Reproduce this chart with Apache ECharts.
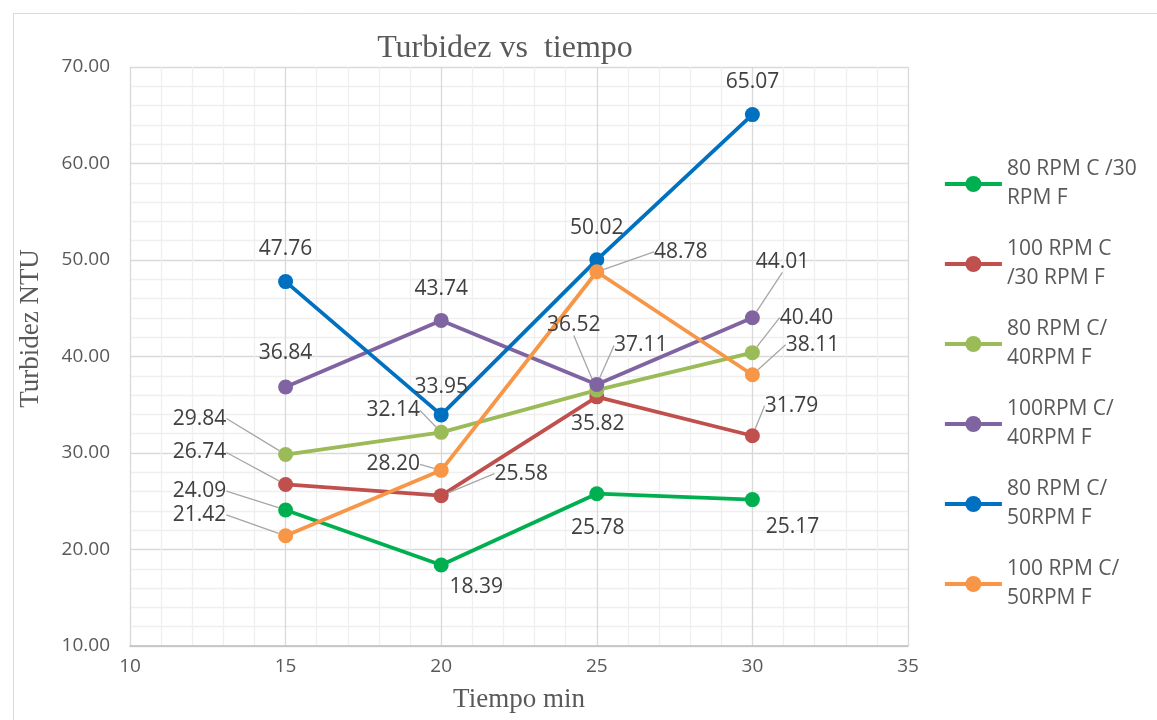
<!DOCTYPE html>
<html>
<head>
<meta charset="utf-8">
<script src="https://cdn.jsdelivr.net/npm/echarts@6/dist/echarts.min.js"></script>
<style>
  html, body { margin: 0; padding: 0; background: #fff; }
  #chart { width: 1157px; height: 720px; }
</style>
</head>
<body>
<div id="chart"></div>
<script>
  // datos
  const tiempos = [15, 20, 25, 30];
  const serieNombres = [
    "80 RPM C /30 RPM F",
    "100 RPM C /30 RPM F",
    "80 RPM C/ 40RPM F",
    "100RPM C/ 40RPM F",
    "80 RPM C/ 50RPM F",
    "100 RPM C/ 50RPM F"
  ];
  const rpm80c30f = [24.09, 18.39, 25.78, 25.17];
  const rpm100c30f = [26.74, 25.58, 35.82, 31.79];
  const rpm80c40f = [29.84, 32.14, 36.52, 40.40];
  const rpm100c40f = [36.84, 43.74, 37.11, 44.01];
  const rpm80c50f = [47.76, 33.95, 50.02, 65.07];
  const rpm100c50f = [21.42, 28.20, 48.78, 38.11];
  const valores = [rpm80c30f, rpm100c30f, rpm80c40f, rpm100c40f, rpm80c50f, rpm100c50f];

  // estilos
  const colores = ["#00B050", "#C0504D", "#9BBB59", "#8064A2", "#0070C0", "#F79646"];
  // posicion de las etiquetas (desplazamiento respecto al punto, px)
  const desplazamientos = [
    [[-86, -19], [35, 22], [1, 34], [40, 27]],
    [[-86, -32], [80, -22], [1, 27], [39, -30]],
    [[-86, -36], [-48, -22], [-23, -65], [54, -35]],
    [[0, -34], [0, -31], [44, -39], [30, -56]],
    [[0, -33], [0, -28], [0, -32], [0, -33]],
    [[-86, -21], [-48, -6], [84, -20], [60, -30]]
  ];
  // lineas guia
  const guias = [
    [true, false, false, false],
    [true, true, false, true],
    [true, true, true, true],
    [false, false, true, true],
    [false, false, false, false],
    [true, true, true, true]
  ];
  // nombres de leyenda en dos lineas
  const leyendaTexto = {
    "80 RPM C /30 RPM F": "80 RPM C /30\nRPM F",
    "100 RPM C /30 RPM F": "100 RPM C\n/30 RPM F",
    "80 RPM C/ 40RPM F": "80 RPM C/\n40RPM F",
    "100RPM C/ 40RPM F": "100RPM C/\n40RPM F",
    "80 RPM C/ 50RPM F": "80 RPM C/\n50RPM F",
    "100 RPM C/ 50RPM F": "100 RPM C/\n50RPM F"
  };

  const chart = echarts.init(document.getElementById("chart"));

  const series = serieNombres.map((nombre, s) => ({
    name: nombre,
    type: "line",
    symbol: "circle",
    symbolSize: 15,
    color: colores[s],
    lineStyle: { width: 3.8, color: colores[s] },
    itemStyle: { color: colores[s] },
    label: {
      show: true,
      position: "inside",
      fontFamily: "Open Sans",
      fontSize: 21,
      color: "#404040",
      formatter: (p) => p.value[1].toFixed(2)
    },
    labelLine: {
      show: true,
      lineStyle: { color: "#a6a6a6", width: 1.3 }
    },
    labelLayout: (p) => {
      const d = desplazamientos[s][p.dataIndex];
      return { dx: d[0], dy: d[1] };
    },
    data: tiempos.map((t, i) => ({
      value: [t, valores[s][i]],
      labelLine: { show: guias[s][i] }
    }))
  }));

  const option = {
    animation: false,
    backgroundColor: "#fff",
    title: {
      text: "Turbidez vs  tiempo",
      left: 500,
      top: 28,
      textAlign: "center",
      textStyle: {
        fontFamily: "Liberation Serif",
        fontWeight: "normal",
        fontSize: 32,
        color: "#595959"
      }
    },
    graphic: [
      {
        type: "rect",
        z: -10,
        shape: { x: 13.5, y: 13.5, width: 1300, height: 900 },
        style: { fill: null, stroke: "#d9d9d9", lineWidth: 1 }
      }
    ],
    legend: {
      orient: "vertical",
      left: 938,
      top: 150,
      itemWidth: 57,
      itemHeight: 20,
      itemGap: 22,
      lineStyle: { width: 3.8 },
      data: serieNombres,
      formatter: (n) => leyendaTexto[n],
      textStyle: {
        fontFamily: "Open Sans",
        fontSize: 21,
        lineHeight: 29,
        color: "#595959"
      }
    },
    grid: {
      left: 130,
      right: 249,
      top: 67,
      bottom: 74
    },
    xAxis: {
      type: "value",
      min: 10,
      max: 35,
      interval: 5,
      name: "Tiempo min",
      nameLocation: "middle",
      nameGap: 40,
      nameTextStyle: {
        fontFamily: "Liberation Serif",
        fontSize: 27,
        color: "#595959"
      },
      axisLine: { show: true, lineStyle: { color: "#bfbfbf", width: 1.5 } },
      axisTick: { show: false },
      axisLabel: {
        fontFamily: "Open Sans",
        fontSize: 19,
        color: "#595959",
        margin: 11
      },
      splitLine: { show: true, lineStyle: { color: "#d9d9d9", width: 1.3 } },
      minorTick: { show: false, splitNumber: 5 },
      minorSplitLine: { show: true, lineStyle: { color: "#efefef", width: 1.3 } }
    },
    yAxis: {
      type: "value",
      min: 10,
      max: 70,
      interval: 10,
      name: "Turbidez NTU",
      nameLocation: "middle",
      nameGap: 86,
      nameTextStyle: {
        fontFamily: "Liberation Serif",
        fontSize: 27,
        color: "#595959",
        padding: [0, 0, 0, 56]
      },
      axisLine: { show: false },
      axisTick: { show: false },
      axisLabel: {
        fontFamily: "Open Sans",
        fontSize: 19,
        color: "#595959",
        margin: 20,
        formatter: (v) => v.toFixed(2)
      },
      splitLine: { show: true, lineStyle: { color: "#d9d9d9", width: 1.3 } },
      minorTick: { show: false, splitNumber: 5 },
      minorSplitLine: { show: true, lineStyle: { color: "#efefef", width: 1.3 } }
    },
    series: series
  };

  chart.setOption(option);
</script>
</body>
</html>
